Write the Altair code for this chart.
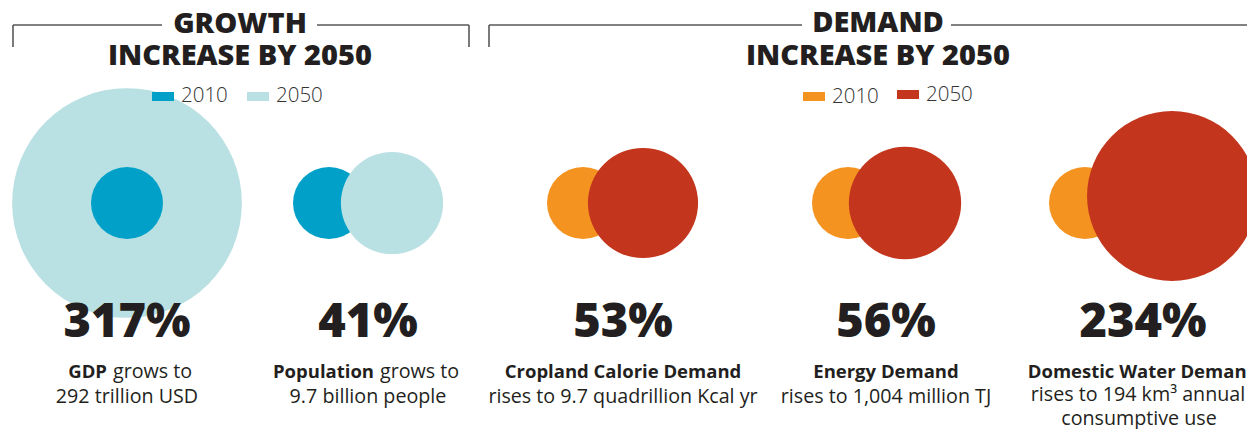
import altair as alt
import pandas as pd

# ---------------- data ----------------
indicators = ["GDP", "Population", "Cropland Calorie Demand", "Energy Demand", "Domestic Water Demand"]
groups = ["growth", "growth", "demand", "demand", "demand"]
increase_labels = ["317%", "41%", "53%", "56%", "234%"]
line1_suffix = ["grows to", "grows to", "", "", ""]
line2 = ["292 trillion USD", "9.7 billion people", "rises to 9.7 quadrillion Kcal yr",
         "rises to 1,004 million TJ", "rises to 194 km\u00b3 annual"]
line3 = ["", "", "", "", "consumptive use"]
years = ["2010", "2050"]
rel_size_2010 = [1.0, 1.0, 1.0, 1.0, 1.0]          # drawn diameter relative to 2010
rel_size_2050 = [3.19, 1.42, 1.53, 1.56, 2.36]
section_titles = ["GROWTH", "DEMAND"]
section_subtitle = "INCREASE BY 2050"

# ---------------- layout (page pixel coordinates) ----------------
W, H, M = 1239, 421, 8
slot_x = [127, 368, 623, 886, 1143]
line2_x = [127, 368, 623, 886, 1138]
c2010_x = [127, 329, 583, 848, 1085]
c2050_x = [127, 392, 643, 905, 1172]
c2010_y = [203, 203, 203, 203, 203]
c2050_y = [203, 203, 203, 203, 196]
split_x = [107, 374, None, None, None]        # end of bold word on mixed lines
base_d = 72                                   # px diameter of a 2010 circle
section_x = [240, 878]
legend_x = [[152, 247], [803, 897]]

colors = {
    ("growth", "2010"): "#00a0c9",
    ("growth", "2050"): "#b9e0e3",
    ("demand", "2010"): "#f4931f",
    ("demand", "2050"): "#c4351d",
}
INK = "#231f20"
FONT = "Open Sans"

XS = alt.Scale(domain=[M, M + W], range=[0, W], nice=False, zero=False)
YS = alt.Scale(domain=[M + H, M], nice=False, zero=False)


def X(f="x"):
    return alt.X(f"{f}:Q", scale=XS, axis=None)


def Y(f="y"):
    return alt.Y(f"{f}:Q", scale=YS, axis=None)


# ---------------- circles ----------------
rows = []
for i, name in enumerate(indicators):
    nested = c2010_x[i] == c2050_x[i]
    r10 = dict(ind=name, year="2010", x=c2010_x[i], y=c2010_y[i], area=rel_size_2010[i] ** 2,
               col=colors[(groups[i], "2010")], ord=i * 2 + (1 if nested else 0))
    r50 = dict(ind=name, year="2050", x=c2050_x[i], y=c2050_y[i], area=rel_size_2050[i] ** 2,
               col=colors[(groups[i], "2050")], ord=i * 2 + (0 if nested else 1))
    rows += [r10, r50]
circ = pd.DataFrame(rows).sort_values("ord")
maxA = circ["area"].max()

circles = alt.Chart(circ).mark_circle(opacity=1, stroke=None).encode(
    x=X(), y=Y(),
    size=alt.Size("area:Q", scale=alt.Scale(domain=[0, maxA], range=[0, maxA * base_d ** 2]), legend=None),
    color=alt.Color("col:N", scale=None),
    order=alt.Order("ord:Q"),
)

# ---------------- section brackets ----------------
br = pd.DataFrame([
    dict(x=13, x2=162, y=25, y2=25), dict(x=317, x2=469, y=25, y2=25),
    dict(x=13, x2=13, y=25, y2=47), dict(x=469, x2=469, y=25, y2=47),
    dict(x=489, x2=802, y=25, y2=25), dict(x=951, x2=1262, y=25, y2=25),
    dict(x=489, x2=489, y=25, y2=47),
])
rules = alt.Chart(br).mark_rule(color="#58595b", strokeWidth=1.6).encode(
    x=X(), x2="x2:Q", y=Y(), y2="y2:Q")

# ---------------- headers ----------------
hd = pd.DataFrame([
    dict(t=section_titles[0], x=section_x[0], y=33),
    dict(t=section_subtitle, x=section_x[0], y=65),
    dict(t=section_titles[1], x=section_x[1], y=32),
    dict(t=section_subtitle, x=section_x[1], y=65),
])
headers = alt.Chart(hd).mark_text(font=FONT, fontSize=29, fontWeight=800, color=INK,
                                  align="center", baseline="alphabetic").encode(
    x=X(), y=Y(), text="t:N")

# ---------------- legends ----------------
lg_rect = []
lg_text = []
for s, g in enumerate(["growth", "demand"]):
    for k, yr in enumerate(years):
        x0 = legend_x[s][k]
        yoff = -2 if (g == "demand" and yr == "2050") else 0
        lg_rect.append(dict(x=x0, x2=x0 + 22, y=92 + yoff, y2=101 + yoff, col=colors[(g, yr)]))
        lg_text.append(dict(t=yr, x=x0 + 29, y=102 + yoff + (1 if g == "demand" else 0)))
legend_rects = alt.Chart(pd.DataFrame(lg_rect)).mark_rect().encode(
    x=X(), x2="x2:Q", y=Y(), y2="y2:Q", color=alt.Color("col:N", scale=None))
legend_texts = alt.Chart(pd.DataFrame(lg_text)).mark_text(
    font=FONT, fontSize=20.5, fontWeight=300, color="#333333", align="left", baseline="alphabetic").encode(
    x=X(), y=Y(), text="t:N")

# ---------------- percentages ----------------
pc = pd.DataFrame(dict(t=increase_labels, x=slot_x, y=[337] * 5))
pcts = alt.Chart(pc).mark_text(font=FONT, fontSize=47, fontWeight=800, color=INK,
                               align="center", baseline="alphabetic").encode(x=X(), y=Y(), text="t:N")

# ---------------- descriptive lines ----------------
bold_c, bold_r, reg_l = [], [], []
for i, name in enumerate(indicators):
    if line1_suffix[i]:
        bold_r.append(dict(t=name, x=split_x[i], y=378))
        reg_l.append(dict(t=line1_suffix[i], x=split_x[i] + 6, y=378))
    else:
        bold_c.append(dict(t=name, x=slot_x[i], y=378))
bold_center = alt.Chart(pd.DataFrame(bold_c)).mark_text(
    font=FONT, fontSize=18.5, fontWeight=700, color=INK, align="center", baseline="alphabetic").encode(
    x=X(), y=Y(), text="t:N")
bold_right = alt.Chart(pd.DataFrame(bold_r)).mark_text(
    font=FONT, fontSize=18.5, fontWeight=700, color=INK, align="right", baseline="alphabetic").encode(
    x=X(), y=Y(), text="t:N")
reg_left = alt.Chart(pd.DataFrame(reg_l)).mark_text(
    font=FONT, fontSize=19.7, fontWeight=400, color=INK, align="left", baseline="alphabetic").encode(
    x=X(), y=Y(), text="t:N")

reg_c = []
for i in range(len(indicators)):
    reg_c.append(dict(t=line2[i], x=line2_x[i], y=403 if not line3[i] else 401))
    if line3[i]:
        reg_c.append(dict(t=line3[i], x=slot_x[i] - 4, y=425))
reg_center = alt.Chart(pd.DataFrame(reg_c)).mark_text(
    font=FONT, fontSize=19.7, fontWeight=400, color=INK, align="center", baseline="alphabetic").encode(
    x=X(), y=Y(), text="t:N")

chart = alt.layer(
    rules, circles, legend_rects, legend_texts, headers, pcts,
    bold_center, bold_right, reg_left, reg_center,
).properties(
    width=W, height=H, padding=0, autosize=alt.AutoSizeParams(type="none"),
    background="white",
).configure_view(stroke=None)

chart.save("out.html", embed_options={"renderer": "svg", "actions": False})
